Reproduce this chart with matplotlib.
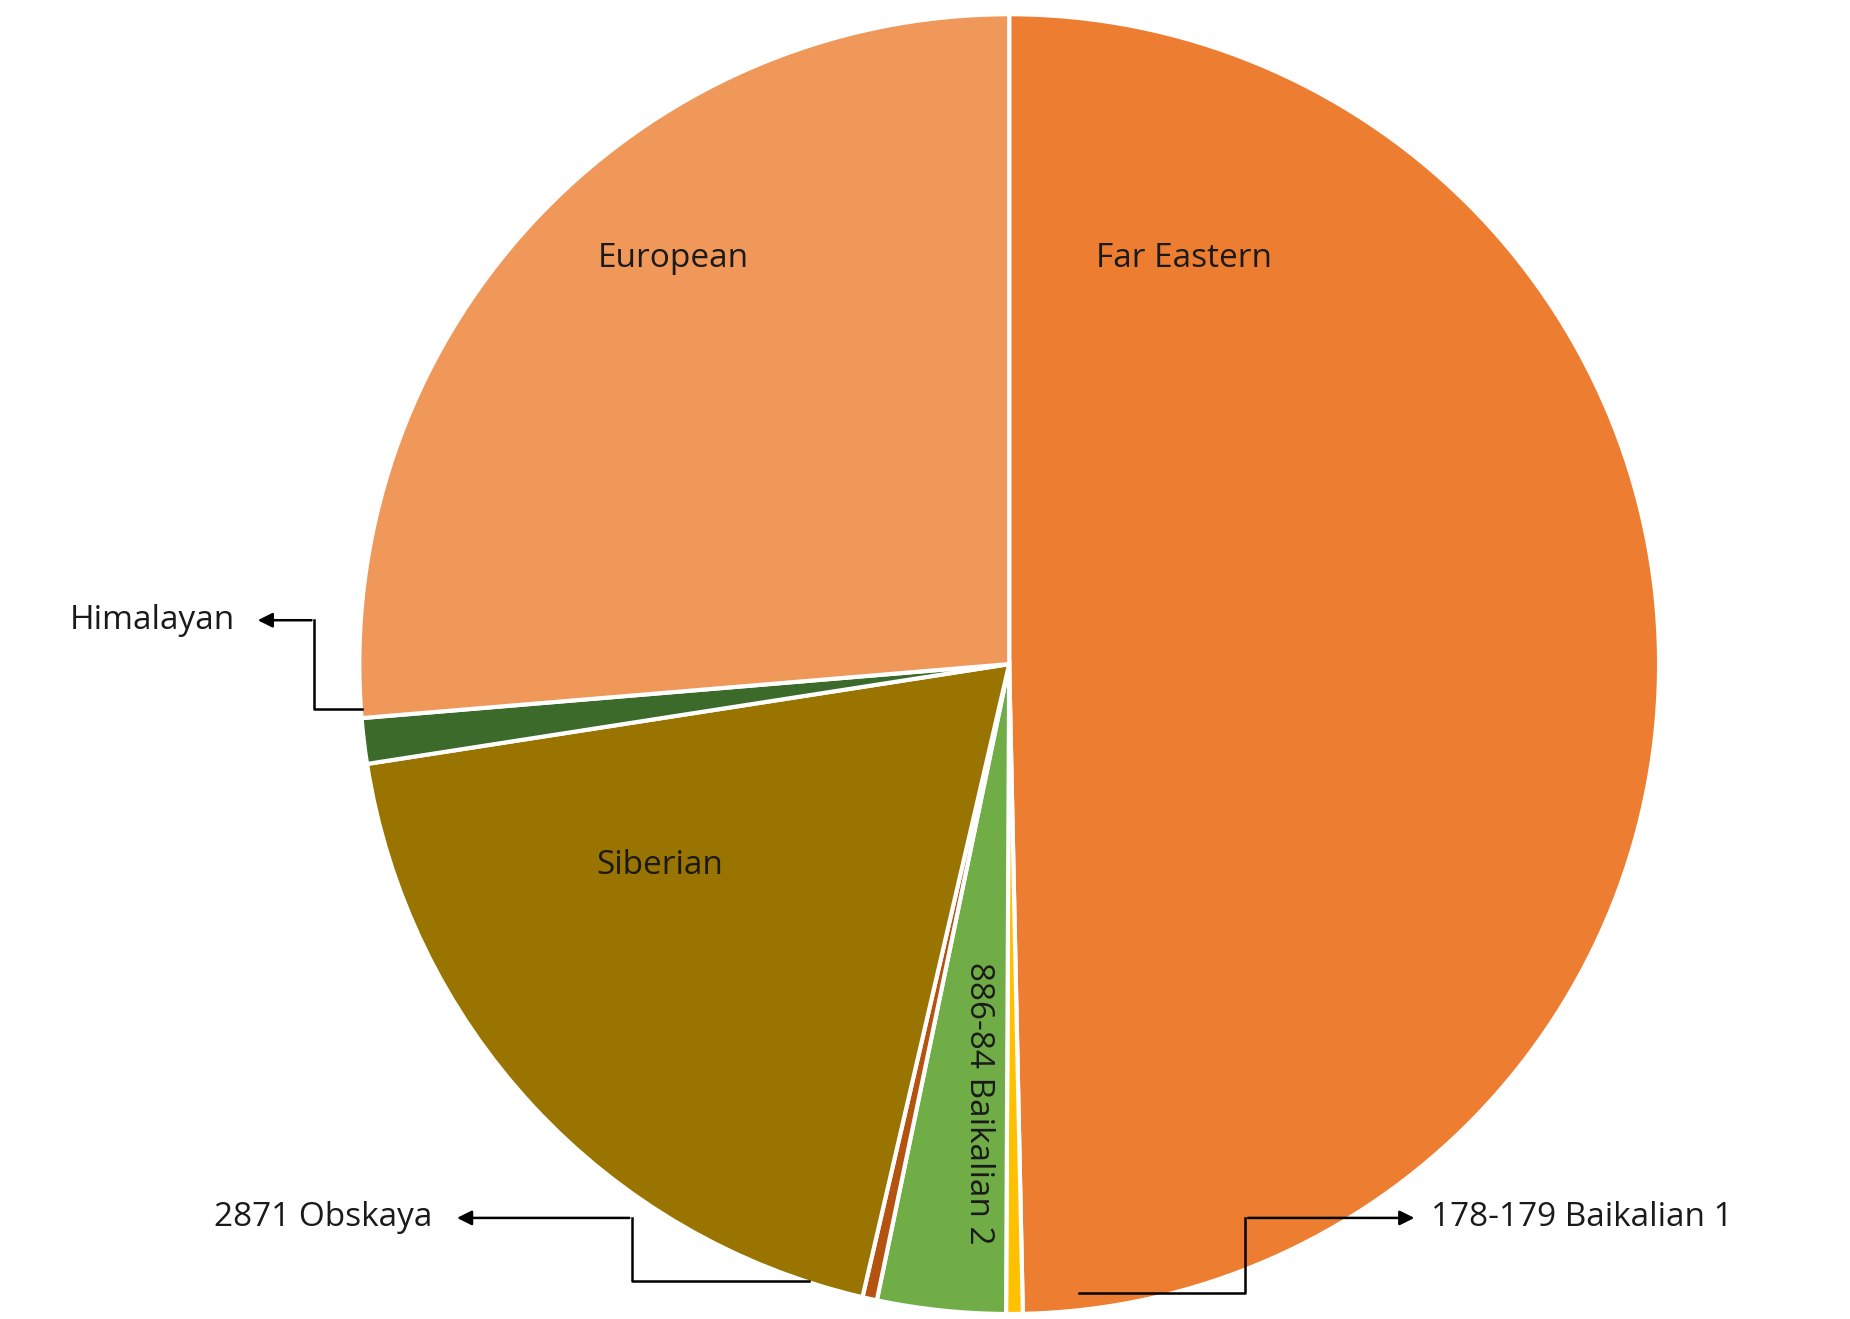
import matplotlib
matplotlib.use("Agg")
import matplotlib.pyplot as plt

categories = ["Far Eastern", "178-179 Baikalian 1", "886-84 Baikalian 2", "2871 Obskaya",
              "Siberian", "Himalayan", "European"]
values = [48.3, 0.4, 3.1, 0.35, 18.4, 1.1, 25.6]
colors = ["#ED7D31", "#FFC000", "#70AD47", "#B4520F", "#9A7400", "#3B6A2A", "#F0975A"]

W, H = 1560, 1560 / (1850 / 1319)
fig = plt.figure(figsize=(18.5, 13.19), dpi=100)
ax = fig.add_axes([0, 0, 1, 1])
ax.set_xlim(0, W); ax.set_ylim(0, H); ax.axis("off")

def Y(y): return H - y

ax.pie(values, colors=colors, startangle=90, counterclock=False,
       center=(851, Y(560)), radius=548, frame=True,
       wedgeprops=dict(edgecolor="white", linewidth=3))
ax.set_xlim(0, W); ax.set_ylim(0, H); ax.set_aspect("equal"); ax.axis("off")

font = dict(family=["Open Sans", "DejaVu Sans"], fontsize=24, color="#1a1a1a")
ax.text(568, Y(218), "European", ha="center", va="center", **font)
ax.text(998, Y(218), "Far Eastern", ha="center", va="center", **font)
ax.text(556, Y(730), "Siberian", ha="center", va="center", **font)
ax.text(825, Y(930), "886-84 Baikalian 2", ha="center", va="center", rotation=-90, **font)
ax.text(198, Y(523), "Himalayan", ha="right", va="center", **font)
ax.text(365, Y(1027), "2871 Obskaya", ha="right", va="center", **font)
ax.text(1207, Y(1027), "178-179 Baikalian 1", ha="left", va="center", **font)

def connector(pts, end):
    xs = [p[0] for p in pts]; ys = [Y(p[1]) for p in pts]
    ax.plot(xs, ys, color="black", lw=1.8)
    ax.annotate("", xy=(end[0], Y(end[1])), xytext=(xs[-1], ys[-1]),
                arrowprops=dict(arrowstyle="-|>", color="black", lw=1.8, mutation_scale=22))

connector([(305, 598), (265, 598), (265, 523)], (215, 523))
connector([(682, 1080), (533, 1080), (533, 1027)], (383, 1027))
connector([(910, 1090), (1050, 1090), (1050, 1027)], (1195, 1027))

fig.savefig("out.png", dpi=100, facecolor="white")
